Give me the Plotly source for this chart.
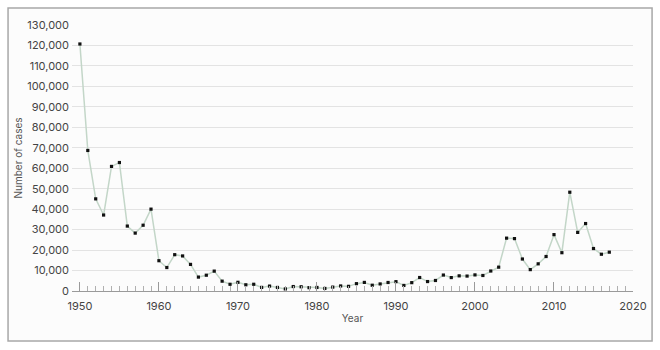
import plotly.graph_objects as go

years = list(range(1950, 2018))
cases = [120718, 68687, 45030, 37129, 60886, 62786, 31732, 28295, 32148, 40005,
         14809, 11468, 17749, 17135, 13005, 6799, 7717, 9718, 4810, 3285,
         4249, 3036, 3287, 1759, 2402, 1738, 1010, 2177, 2063, 1623,
         1730, 1248, 1895, 2463, 2276, 3589, 4195, 2823, 3450, 4157,
         4570, 2719, 4083, 6586, 4617, 5137, 7796, 6564, 7405, 7298,
         7867, 7580, 9771, 11647, 25827, 25616, 15632, 10454, 13278, 16858,
         27550, 18719, 48277, 28639, 32971, 20762, 17972, 18975]

y_ticks = list(range(0, 130001, 10000))
x_ticks = list(range(1950, 2021, 10))

font_family = "Inter, Roboto, sans-serif"

fig = go.Figure()
fig.add_trace(go.Scatter(
    x=years, y=cases, mode="lines+markers",
    line=dict(color="#c3d6c8", width=1.5),
    marker=dict(symbol="square", size=3.2, color="#111111"),
    hoverinfo="x+y", showlegend=False,
))

fig.add_shape(type="rect", xref="paper", yref="paper",
              x0=-0.114, x1=1.034, y0=-0.188, y1=1.064,
              line=dict(color="#a8a8a8", width=1.5),
              fillcolor="#fcfcfc", layer="below")

fig.update_layout(
    width=660, height=350,
    margin=dict(l=72, r=27, t=25, b=59),
    paper_bgcolor="white", plot_bgcolor="rgba(0,0,0,0)",
    font=dict(family=font_family, size=11, color="#444444"),
    xaxis=dict(
        range=[1949, 2020], tickvals=x_ticks, ticktext=[str(t) for t in x_ticks],
        showgrid=False, zeroline=False,
        showline=True, linecolor="#9a9a9a", linewidth=1,
        ticks="inside", ticklen=9, tickcolor="#9a9a9a", tickwidth=1,
        ticklabelstandoff=5,
        minor=dict(dtick=1, tick0=1950, ticks="inside", ticklen=5,
                   tickcolor="#b0b0b0", showgrid=False),
        title=dict(text="Year", font=dict(size=10, color="#555555"), standoff=2),
        tickfont=dict(size=11, color="#444444"),
    ),
    yaxis=dict(
        range=[0, 130000], tickvals=y_ticks,
        ticktext=[f"{t:,}" for t in y_ticks],
        showgrid=True, gridcolor="#e3e3e3", gridwidth=1,
        zeroline=False, showline=False, ticks="",
        ticklabelstandoff=2,
        title=dict(text="Number of cases", font=dict(size=10, color="#555555"), standoff=2),
        tickfont=dict(size=11, color="#444444"),
    ),
)

fig.write_html("out.html")
